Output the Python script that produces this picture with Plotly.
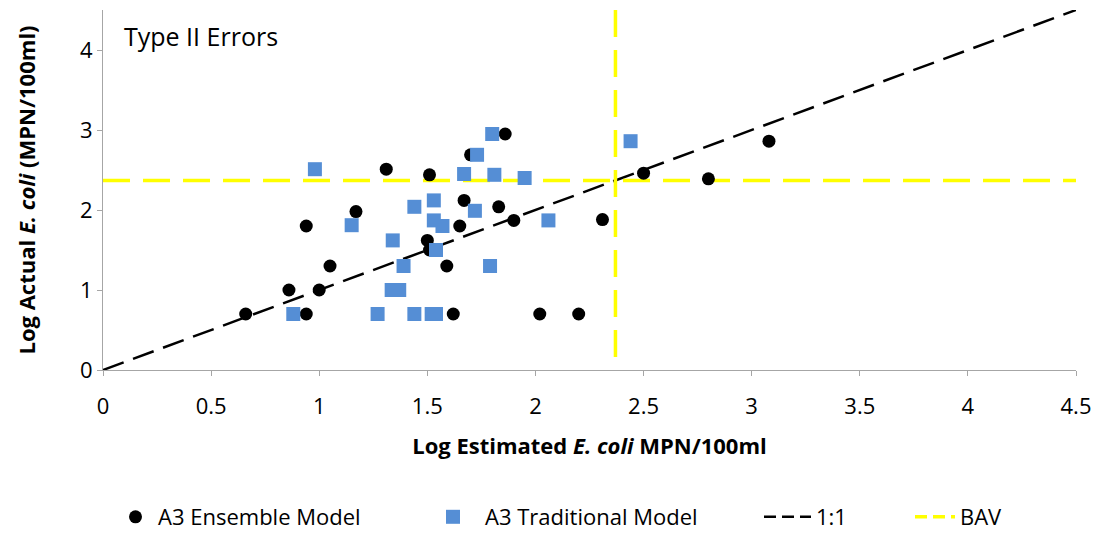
import plotly.graph_objects as go

# Ensemble model (black circles)
ens_x = [0.66, 0.86, 0.94, 0.94, 1.00, 1.05, 1.17, 1.31, 1.50, 1.51, 1.51, 1.59, 1.62,
         1.65, 1.67, 1.70, 1.83, 1.86, 1.90, 2.02, 2.20, 2.31, 2.50, 2.80, 3.08]
ens_y = [0.70, 1.00, 0.70, 1.80, 1.00, 1.30, 1.98, 2.51, 1.62, 1.50, 2.44, 1.30, 0.70,
         1.80, 2.12, 2.69, 2.04, 2.95, 1.87, 0.70, 0.70, 1.88, 2.46, 2.39, 2.86]

# Traditional model (blue squares)
trad_x = [0.88, 0.98, 1.15, 1.27, 1.34, 1.335, 1.37, 1.39, 1.44, 1.44, 1.52, 1.53, 1.53,
          1.54, 1.54, 1.57, 1.67, 1.72, 1.73, 1.79, 1.80, 1.81, 1.95, 2.06, 2.44]
trad_y = [0.70, 2.51, 1.81, 0.70, 1.62, 1.00, 1.00, 1.30, 2.04, 0.70, 0.70, 2.12, 1.87,
          1.50, 0.70, 1.80, 2.45, 1.99, 2.69, 1.30, 2.95, 2.44, 2.40, 1.87, 2.86]

one_to_one = [0, 4.5]
BAV = 2.37
axis_max = 4.5

x_ticks = [0, 0.5, 1, 1.5, 2, 2.5, 3, 3.5, 4, 4.5]
x_tick_text = ["0", "0.5", "1", "1.5", "2", "2.5", "3", "3.5", "4", "4.5"]
y_ticks = [0, 1, 2, 3, 4]

FONT = "'Open Sans', sans-serif"
W, H = 1096, 533

fig = go.Figure()
fig.add_trace(go.Scatter(
    x=one_to_one, y=one_to_one, mode="lines", name="1:1",
    line=dict(color="black", width=2.5, dash="22px,10px"), showlegend=False))
fig.add_trace(go.Scatter(
    x=[0, axis_max, None, BAV, BAV], y=[BAV, BAV, None, axis_max, 0],
    mode="lines", name="BAV",
    line=dict(color="#FFFF00", width=3.5, dash="27px,13px"), showlegend=False))
fig.add_trace(go.Scatter(
    x=ens_x, y=ens_y, mode="markers", name="A3 Ensemble Model", legend="legend",
    marker=dict(symbol="circle", size=13, color="black")))
fig.add_trace(go.Scatter(
    x=trad_x, y=trad_y, mode="markers", name="A3 Traditional Model", legend="legend2",
    marker=dict(symbol="square", size=14, color="#558ED5")))
# legend-only entries for the reference lines
fig.add_trace(go.Scatter(
    x=[None], y=[None], mode="lines", name="1:1", legend="legend3",
    line=dict(color="black", width=2.5, dash="12px,6px")))
fig.add_trace(go.Scatter(
    x=[None], y=[None], mode="lines", name="BAV", legend="legend4",
    line=dict(color="#FFFF00", width=3.5, dash="12px,6px")))

axis_common = dict(
    showgrid=False, zeroline=False, showline=True, linecolor="#A6A6A6", linewidth=1,
    ticks="outside", ticklen=5, tickcolor="#A6A6A6",
    tickfont=dict(family=FONT, size=22, color="black"),
)

fig.update_xaxes(range=[0, axis_max], tickvals=x_ticks, ticktext=x_tick_text,
                 ticklabelstandoff=12,
                 title=dict(text="<b>Log Estimated <i>E. coli</i> MPN/100ml</b>",
                            font=dict(family=FONT, size=22, color="black"), standoff=19),
                 **axis_common)
fig.update_yaxes(range=[0, axis_max], tickvals=y_ticks,
                 title=dict(text="<b>Log Actual <i>E. coli</i> (MPN/100ml)</b>",
                            font=dict(family=FONT, size=22, color="black"), standoff=38),
                 **axis_common)

fig.add_annotation(x=0.09, y=4.17, xref="x", yref="y", text="Type II Errors",
                   showarrow=False, xanchor="left", yanchor="middle",
                   font=dict(family=FONT, size=25, color="black"))
fig.add_annotation(x=4.55, y=0.375, xref="x", yref="y", text="Type I Errors",
                   showarrow=False, xanchor="right", yanchor="middle",
                   font=dict(family=FONT, size=25, color="black"))

leg_common = dict(orientation="h", xref="container", yref="container",
                  xanchor="left", yanchor="middle", y=1 - 517 / H,
                  bgcolor="rgba(0,0,0,0)",
                  font=dict(family=FONT, size=22, color="black"))
symbol_centers = [135, 443, 781, 932]
item_widths = [35, 54, 47, 40]

legends = {}
for i, (c, iw) in enumerate(zip(symbol_centers, item_widths)):
    key = "legend" if i == 0 else f"legend{i + 1}"
    legends[key] = dict(x=(c - 22) / W, itemwidth=iw, **leg_common)

fig.update_layout(
    width=W, height=H,
    margin=dict(l=103, r=20, t=10, b=163, autoexpand=False),
    plot_bgcolor="white", paper_bgcolor="white",
    font=dict(family=FONT, color="black"),
    **legends,
)

fig.write_html("out.html")
